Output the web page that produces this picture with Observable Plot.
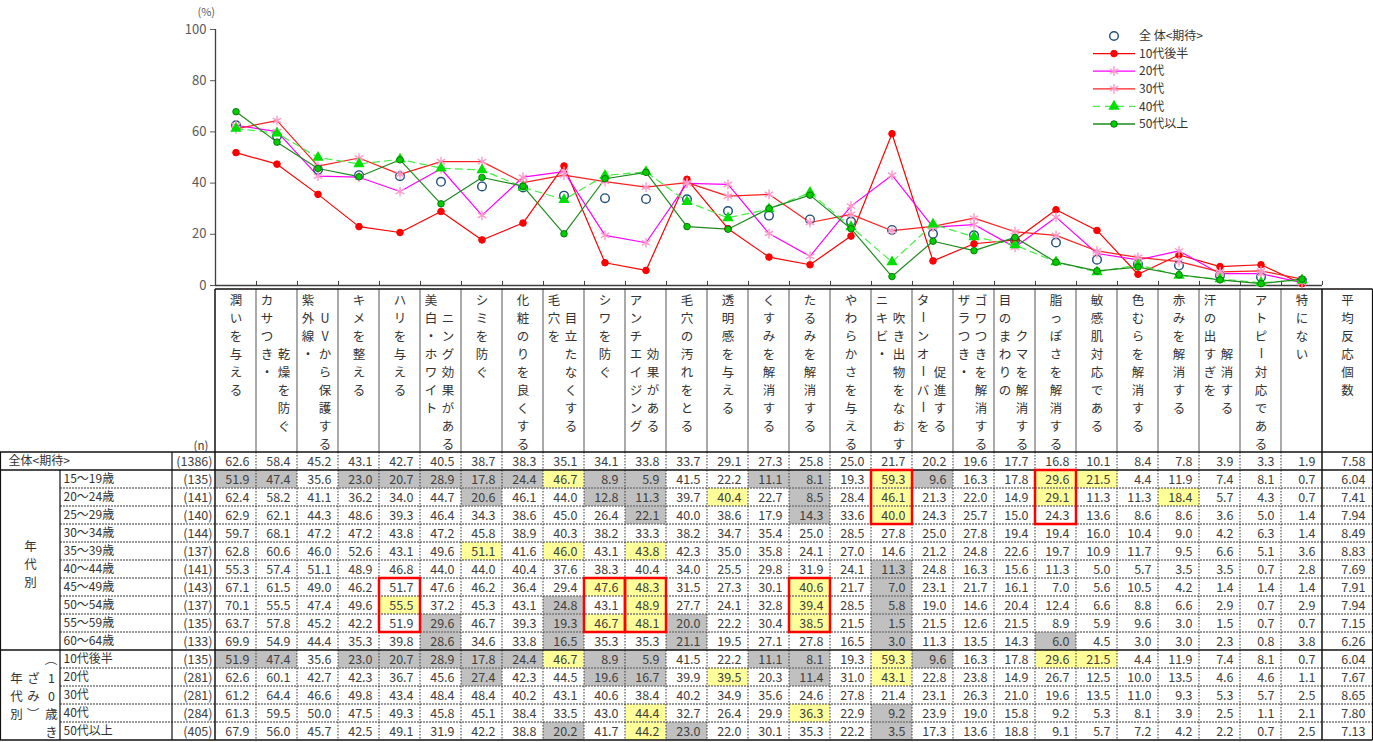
<!DOCTYPE html>
<html><head><meta charset="utf-8">
<script src="https://cdn.jsdelivr.net/npm/d3@7"></script>
<script src="https://cdn.jsdelivr.net/npm/@observablehq/plot@0.6"></script>
<style>
body{margin:0;background:#fff;}
#wrap{position:relative;width:1373px;height:742px;font-family:"Noto Sans CJK JP","Noto Sans",sans-serif;overflow:hidden;}
#wrap svg{position:absolute;left:0;overflow:visible;}
</style></head><body><div id="wrap"></div>
<script>
// ---------- data ----------
const labelText = [
 "潤いを与える","カサつき・|　　　乾燥を防ぐ","紫外線・|　UVから保護する","キメを整える","ハリを与える",
 "美白・ホワイト|　ニング効果がある","シミを防ぐ","化粧のりを良くする","毛穴を|　目立たなくする","シワを防ぐ",
 "アンチエイジング|　　　効果がある","毛穴の汚れをとる","透明感を与える","くすみを解消する","たるみを解消する",
 "やわらかさを与える","ニキビ・|　吹き出物をなおす","ターンオーバーを|　　　　促進する","ザラつき・|ゴワつきを解消する","目のまわりの|　　クマを解消する",
 "脂っぽさを解消する","敏感肌対応である","色むらを解消する","赤みを解消する","汗の出すぎを|　　　解消する",
 "アトピー対応である","特にない"
];
const categories = labelText.map(s => s.replace(/[|　]/g, ""));
const avgLabel = "平均反応個数";
const groupLabel1 = ["年代別"];
const groupLabel2 = ["年代別", "ざみ）", "（10歳き"];

const total  = [62.6,58.4,45.2,43.1,42.7,40.5,38.7,38.3,35.1,34.1,33.8,33.7,29.1,27.3,25.8,25.0,21.7,20.2,19.6,17.7,16.8,10.1,8.4,7.8,3.9,3.3,1.9];
const a15_19 = [51.9,47.4,35.6,23.0,20.7,28.9,17.8,24.4,46.7,8.9,5.9,41.5,22.2,11.1,8.1,19.3,59.3,9.6,16.3,17.8,29.6,21.5,4.4,11.9,7.4,8.1,0.7];
const a20_24 = [62.4,58.2,41.1,36.2,34.0,44.7,20.6,46.1,44.0,12.8,11.3,39.7,40.4,22.7,8.5,28.4,46.1,21.3,22.0,14.9,29.1,11.3,11.3,18.4,5.7,4.3,0.7];
const a25_29 = [62.9,62.1,44.3,48.6,39.3,46.4,34.3,38.6,45.0,26.4,22.1,40.0,38.6,17.9,14.3,33.6,40.0,24.3,25.7,15.0,24.3,13.6,8.6,8.6,3.6,5.0,1.4];
const a30_34 = [59.7,68.1,47.2,47.2,43.8,47.2,45.8,38.9,40.3,38.2,33.3,38.2,34.7,35.4,25.0,28.5,27.8,25.0,27.8,19.4,19.4,16.0,10.4,9.0,4.2,6.3,1.4];
const a35_39 = [62.8,60.6,46.0,52.6,43.1,49.6,51.1,41.6,46.0,43.1,43.8,42.3,35.0,35.8,24.1,27.0,14.6,21.2,24.8,22.6,19.7,10.9,11.7,9.5,6.6,5.1,3.6];
const a40_44 = [55.3,57.4,51.1,48.9,46.8,44.0,44.0,40.4,37.6,38.3,40.4,34.0,25.5,29.8,31.9,24.1,11.3,24.8,16.3,15.6,11.3,5.0,5.7,3.5,3.5,0.7,2.8];
const a45_49 = [67.1,61.5,49.0,46.2,51.7,47.6,46.2,36.4,29.4,47.6,48.3,31.5,27.3,30.1,40.6,21.7,7.0,23.1,21.7,16.1,7.0,5.6,10.5,4.2,1.4,1.4,1.4];
const a50_54 = [70.1,55.5,47.4,49.6,55.5,37.2,45.3,43.1,24.8,43.1,48.9,27.7,24.1,32.8,39.4,28.5,5.8,19.0,14.6,20.4,12.4,6.6,8.8,6.6,2.9,0.7,2.9];
const a55_59 = [63.7,57.8,45.2,42.2,51.9,29.6,46.7,39.3,19.3,46.7,48.1,20.0,22.2,30.4,38.5,21.5,1.5,21.5,12.6,21.5,8.9,5.9,9.6,3.0,1.5,0.7,0.7];
const a60_64 = [69.9,54.9,44.4,35.3,39.8,28.6,34.6,33.8,16.5,35.3,35.3,21.1,19.5,27.1,27.8,16.5,3.0,11.3,13.5,14.3,6.0,4.5,3.0,3.0,2.3,0.8,3.8];
const g10s   = [51.9,47.4,35.6,23.0,20.7,28.9,17.8,24.4,46.7,8.9,5.9,41.5,22.2,11.1,8.1,19.3,59.3,9.6,16.3,17.8,29.6,21.5,4.4,11.9,7.4,8.1,0.7];
const g20s   = [62.6,60.1,42.7,42.3,36.7,45.6,27.4,42.3,44.5,19.6,16.7,39.9,39.5,20.3,11.4,31.0,43.1,22.8,23.8,14.9,26.7,12.5,10.0,13.5,4.6,4.6,1.1];
const g30s   = [61.2,64.4,46.6,49.8,43.4,48.4,48.4,40.2,43.1,40.6,38.4,40.2,34.9,35.6,24.6,27.8,21.4,23.1,26.3,21.0,19.6,13.5,11.0,9.3,5.3,5.7,2.5];
const g40s   = [61.3,59.5,50.0,47.5,49.3,45.8,45.1,38.4,33.5,43.0,44.4,32.7,26.4,29.9,36.3,22.9,9.2,23.9,19.0,15.8,9.2,5.3,8.1,3.9,2.5,1.1,2.1];
const g50s   = [67.9,56.0,45.7,42.5,49.1,31.9,42.2,38.8,20.2,41.7,44.2,23.0,22.0,30.1,35.3,22.2,3.5,17.3,13.6,18.8,9.1,5.7,7.2,4.2,2.2,0.7,2.5];

const rowNames  = ["全体<期待>","15～19歳","20～24歳","25～29歳","30～34歳","35～39歳","40～44歳","45～49歳","50～54歳","55～59歳","60～64歳","10代後半","20代","30代","40代","50代以上"];
const rowN      = [1386,135,141,140,144,137,141,143,137,135,133,135,281,281,284,405];
const rowValues = [total,a15_19,a20_24,a25_29,a30_34,a35_39,a40_44,a45_49,a50_54,a55_59,a60_64,g10s,g20s,g30s,g40s,g50s];
const avgCount  = [7.58,6.04,7.41,7.94,8.49,8.83,7.69,7.91,7.94,7.15,6.26,6.04,7.67,8.65,7.80,7.13];

const seriesNames  = ["10代後半","20代","30代","40代","50代以上"];
const seriesValues = [g10s,g20s,g30s,g40s,g50s];
const totalName = "全 体<期待>";

const boxes = [
 ["ハリを与える","45～49歳","55～59歳"],
 ["シワを防ぐ","45～49歳","55～59歳"],
 ["アンチエイジング効果がある","45～49歳","55～59歳"],
 ["たるみを解消する","45～49歳","55～59歳"],
 ["ニキビ・吹き出物をなおす","15～19歳","25～29歳"],
 ["脂っぽさを解消する","15～19歳","25～29歳"]
];

// ---------- styles ----------
const FONT = '"Noto Sans CJK JP","Noto Sans",sans-serif';
const sStyle = {
 "10代後半": {stroke:"#ff0000", symbol:"circle", r:3.3, fill:"#ff0000", ms:"#ff0000", msw:1},
 "20代":     {stroke:"#ff00ff", symbol:"asterisk", r:4.6, fill:"none", ms:"#ff99cc", msw:1.4},
 "30代":     {stroke:"#ff2020", symbol:"asterisk", r:4.6, fill:"none", ms:"#ff99cc", msw:1.4},
 "40代":     {stroke:"#44ee44", dash:"7,5", symbol:"triangle", r:4.2, fill:"#00e000", ms:"none", msw:0},
 "50代以上": {stroke:"#1e8a1e", symbol:"circle", r:3.3, fill:"#00cc00", ms:"#006400", msw:0.8}
};

const W = 1373;
const wrap = document.getElementById("wrap");

// ---------- chart ----------
const sData = seriesNames.flatMap((s, si) => seriesValues[si].map((v, i) => ({s, cat: categories[i], v})));
const tData = total.map((v, i) => ({cat: categories[i], v}));
const last = categories[categories.length - 1];

const chartMarks = [
  Plot.ruleY([0], {stroke:"#404040", strokeWidth:1.3}),
  Plot.ruleX([categories[0]], {dx:-20.5, y1:0, y2:100, stroke:"#404040", strokeWidth:1.3}),
  Plot.ruleX(categories, {dx:-20.5, y1:0, y2:1.6, stroke:"#404040"}),
  Plot.ruleX([last], {dx:20.5, y1:0, y2:1.6, stroke:"#404040"}),
];
for (const s of seriesNames) {
  const st = sStyle[s];
  chartMarks.push(Plot.line(sData.filter(d => d.s === s), {x:"cat", y:"v", stroke:st.stroke, strokeWidth:1.2, strokeDasharray:st.dash}));
}
chartMarks.push(Plot.dot(tData, {x:"cat", y:"v", r:4.3, stroke:"#1f4e79", strokeWidth:1.4, fill:"none"}));
for (const s of seriesNames) {
  const st = sStyle[s];
  chartMarks.push(Plot.dot(sData.filter(d => d.s === s), {x:"cat", y:"v", symbol:st.symbol, r:st.r, fill:st.fill, stroke:st.ms, strokeWidth:st.msw}));
}
chartMarks.push(Plot.text(["(%)"], {frameAnchor:"top-left", dx:-18, dy:-21, text:d=>d, fontSize:11, fill:"#595959"}));

const chart = Plot.plot({
  width: W, height: 290,
  marginLeft: 215, marginRight: 51, marginTop: 29, marginBottom: 5,
  x: {type:"band", domain:categories, padding:0, axis:null},
  y: {domain:[0,100], ticks:[0,20,40,60,80,100], tickSize:5, tickPadding:4, label:null},
  style: {fontFamily:FONT, fontSize:"13px", color:"#595959", background:"transparent", overflow:"visible"},
  marks: chartMarks
});
chart.style.top = "0px";
wrap.appendChild(chart);

// ---------- table ----------
const rowsAll = rowNames.map((name, i) => ({name, n: rowN[i], vals: rowValues[i], avg: avgCount[i]}));
const cells = rowsAll.flatMap((r, ri) => r.vals.map((v, ci) => ({row: r.name, ri, cat: categories[ci], v, d: Math.round((v - total[ci]) * 10) / 10})));
const vl = categories.map((c, i) => ({cat: c, cols: labelText[i].split("|")}));

const table = Plot.plot({
  width: W, height: 454,
  marginLeft: 215, marginRight: 51, marginTop: 164, marginBottom: 2,
  x: {type:"band", domain:categories, padding:0, axis:null},
  y: {type:"band", domain:rowNames, padding:0, axis:null},
  style: {fontFamily:FONT, fontSize:"12px", color:"#333", background:"transparent", overflow:"visible"},
  marks: [
    Plot.cell(cells.filter(d => d.ri > 0 && Math.abs(d.d) >= 10), {x:"cat", y:"row", fill: d => d.d >= 10 ? "#ffff99" : "#c0c0c0"}),
    Plot.text(cells, {x:"cat", y:"row", text: d => d.v.toFixed(1), textAnchor:"end", dx:13.5, fill:"#404040", fontSize:12.5}),
    Plot.text(rowsAll, {y:"name", text: d => d.avg.toFixed(2), frameAnchor:"right", textAnchor:"end", dx:43, fill:"#404040", fontSize:12.5}),
    Plot.text(rowsAll, {y:"name", text: d => `(${d.n})`, frameAnchor:"left", textAnchor:"end", dx:-3, fill:"#404040", fontSize:12.5}),
    Plot.text(rowsAll.slice(1), {y:"name", text:"name", frameAnchor:"left", textAnchor:"start", dx:-152, fill:"#333", fontSize:12}),
    Plot.text(rowsAll.slice(0,1), {y:"name", text:"name", frameAnchor:"left", textAnchor:"start", dx:-207, fill:"#333", fontSize:12}),
    Plot.text(["(n)"], {frameAnchor:"top-left", dx:-22, dy:-11, text:d=>d, fill:"#404040", fontSize:11.5}),
    // vertical header labels (turned into character columns below)
    Plot.text(vl.filter(d => d.cols.length === 1), {x:"cat", text: d => d.cols[0], frameAnchor:"top", dy:-160, fontSize:12.5, fill:"#333"}),
    Plot.text(vl.filter(d => d.cols.length === 2), {x:"cat", text: d => d.cols[0], frameAnchor:"top", dx:-10, dy:-160, fontSize:12.5, fill:"#333"}),
    Plot.text(vl.filter(d => d.cols.length === 2), {x:"cat", text: d => d.cols[1], frameAnchor:"top", dx:7, dy:-160, fontSize:12.5, fill:"#333"}),
    Plot.text([avgLabel], {text:d=>d, frameAnchor:"top-right", dx:25, dy:-160, fontSize:12.5, fill:"#333"}),
    // group labels
    Plot.text([{row:"40～44歳", t:groupLabel1[0]}], {y:"row", text:"t", frameAnchor:"left", dx:-185, dy:-6, fontSize:12.5, fill:"#333"}),
    Plot.text([{row:"30代", t:groupLabel2[0]}], {y:"row", text:"t", frameAnchor:"left", dx:-199, fontSize:12.5, fill:"#333"}),
    Plot.text([{row:"30代", t:groupLabel2[1]}], {y:"row", text:"t", frameAnchor:"left", dx:-182, fontSize:12.5, fill:"#333"}),
    Plot.text([{row:"30代", t:groupLabel2[2]}], {y:"row", text:"t", frameAnchor:"left", dx:-164, fontSize:12.5, fill:"#333"})
  ]
});
table.style.top = "288px";
wrap.appendChild(table);

const tsel = d3.select(table);
// turn a one-line text into a column of upright characters (vertical writing)
function verticalize(nodes, anchor) {
  const STEP = 18;
  nodes.forEach(t => {
    const tr = t.getAttribute("transform") || "";
    const m = /translate\(\s*([-\d.e]+)[ ,]+([-\d.e]+)\s*\)/.exec(tr);
    const X = m ? +m[1] : +(t.getAttribute("x") || 0);
    const Y = m ? +m[2] : +(t.getAttribute("y") || 0);
    const chars = Array.from(t.textContent);
    const n = chars.length;
    const y0 = anchor === "start" ? Y + 6.5 : Y - (n - 1) * STEP / 2;
    const parent = t.parentNode;
    chars.forEach((ch, k) => {
      if (ch === "　" || ch === " ") return;
      const cy = y0 + k * STEP;
      const e = document.createElementNS("http://www.w3.org/2000/svg", "text");
      e.setAttribute("x", X); e.setAttribute("y", cy);
      e.setAttribute("text-anchor", "middle");
      e.setAttribute("dominant-baseline", "central");
      if ("ー（）".includes(ch)) e.setAttribute("transform", `rotate(90,${X},${cy})`);
      e.textContent = ch;
      parent.appendChild(e);
    });
    parent.removeChild(t);
  });
}
const headSet = new Set([...labelText.flatMap(s => s.split("|")), avgLabel]);
const groupSet = new Set([...groupLabel1, ...groupLabel2]);
const allTexts = tsel.selectAll("text").nodes();
verticalize(allTexts.filter(t => headSet.has(t.textContent)), "start");
verticalize(allTexts.filter(t => groupSet.has(t.textContent)), "middle");

// grid lines using the plot's scales
const sx = table.scale("x"), sy = table.scale("y");
const bw = sx.bandwidth, bh = sy.bandwidth;
const xL = sx.range[0], xR = sx.range[1], xE = W - 0.5;
const yHead = sy.apply(rowNames[0]), yEnd = sy.apply(rowNames[rowNames.length - 1]) + bh;
const g = tsel.append("g");
const line = (x1, y1, x2, y2, stroke, sw, dash) => g.append("line").attr("x1", x1).attr("y1", y1).attr("x2", x2).attr("y2", y2)
  .attr("stroke", stroke).attr("stroke-width", sw).attr("stroke-dasharray", dash || null);
rowNames.forEach((r, i) => {
  if (i >= 2 && i !== 11) line(60, sy.apply(r), xE, sy.apply(r), "#7a7a7a", 1.6, "2,1");
});
categories.forEach((c, i) => {
  if (i > 0) {
    const x = sx.apply(c);
    line(x, 1, x, yHead, "#555", 1, null);
    line(x, yHead, x, yEnd, "#333", 1, "1.5,1.5");
  }
});
[yHead, sy.apply(rowNames[1]), sy.apply("10代後半"), yEnd].forEach(y => line(0, y, xE, y, "#111", 1.5));
line(xL, 1, xE, 1, "#111", 1.5);
line(0.5, yHead, 0.5, yEnd, "#111", 1.2);
line(60, sy.apply(rowNames[1]), 60, yEnd, "#111", 1.2);
line(172, yHead, 172, yEnd, "#111", 1.2);
line(xL, 1, xL, yEnd, "#111", 1.5);
line(xR, 1, xR, yEnd, "#111", 1.5);
line(xE, 1, xE, yEnd, "#111", 1.2);
boxes.forEach(([c, r1, r2]) => {
  const x = sx.apply(c), y = sy.apply(r1), y2 = sy.apply(r2) + bh;
  g.append("rect").attr("x", x).attr("y", y).attr("width", bw).attr("height", y2 - y)
    .attr("fill", "none").attr("stroke", "#ff0000").attr("stroke-width", 2.5);
});

// ---------- legend ----------
const leg = d3.select(wrap).append("svg").attr("width", 300).attr("height", 140)
  .style("left", "1080px").style("top", "25px").style("font-family", FONT);
const legItems = [totalName, ...seriesNames];
legItems.forEach((name, i) => {
  const y = 11 + i * 17.6;
  const gg = leg.append("g").attr("transform", `translate(0,${y})`);
  if (i > 0) {
    const st = sStyle[name];
    gg.append("line").attr("x1", 13).attr("x2", 55).attr("stroke", st.stroke).attr("stroke-width", 1.3).attr("stroke-dasharray", st.dash || null);
    const sym = {circle: d3.symbolCircle, asterisk: d3.symbolAsterisk, triangle: d3.symbolTriangle}[st.symbol];
    gg.append("path").attr("transform", "translate(34,0)").attr("d", d3.symbol(sym, Math.PI * st.r * st.r)())
      .attr("fill", st.fill).attr("stroke", st.ms).attr("stroke-width", st.msw);
  } else {
    gg.append("circle").attr("cx", 34).attr("r", 4.3).attr("fill", "none").attr("stroke", "#1f4e79").attr("stroke-width", 1.4);
  }
  gg.append("text").attr("x", 59).attr("dy", "0.35em").attr("font-size", 12).attr("fill", "#333").text(name);
});
</script></body></html>
